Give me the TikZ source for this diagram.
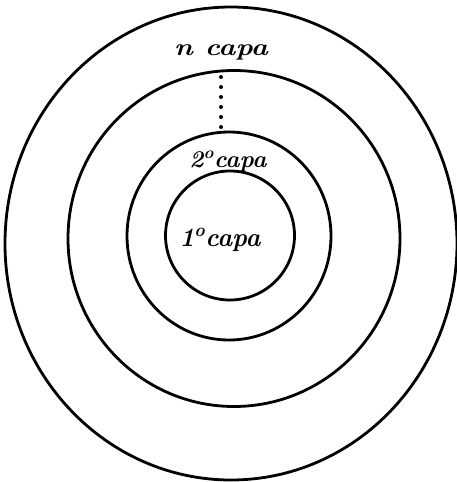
\documentclass[tikz,border=0pt]{standalone}
\begin{document}
\begin{tikzpicture}[x=1pt,y=-1pt,
  ring/.style={draw=black,line width=2.8pt},
  lbl/.style={font=\fontsize{24}{26}\selectfont\itshape\bfseries,inner sep=0pt},
  dots/.style={line width=4pt,line cap=round,dash pattern=on 0pt off 10pt}]
\useasboundingbox (0,0) rectangle (457,482);
\fill[white] (0,0) rectangle (457,482);
\draw[ring] (231,243.5) ellipse [x radius=226, y radius=236.5];
\draw[ring] (234,238.5) ellipse [x radius=166, y radius=168];
\draw[ring] (229,236) ellipse [x radius=102, y radius=104];
\draw[ring] (230,235.5) circle [radius=64.5];
\node[lbl] (n) at (221,52) {\scalebox{1.2}[1]{n capa}};
\node[lbl] (c2) at (228,162) {2\textsuperscript{o}capa};
\node[lbl] (c1) at (220,240) {\scalebox{1.05}[1.1]{1\textsuperscript{o}capa}};
\coordinate (dtop) at (221,77);
\coordinate (dbot) at (221,128);
\draw[dots] (dtop) -- (dbot);
\end{tikzpicture}
\end{document}
